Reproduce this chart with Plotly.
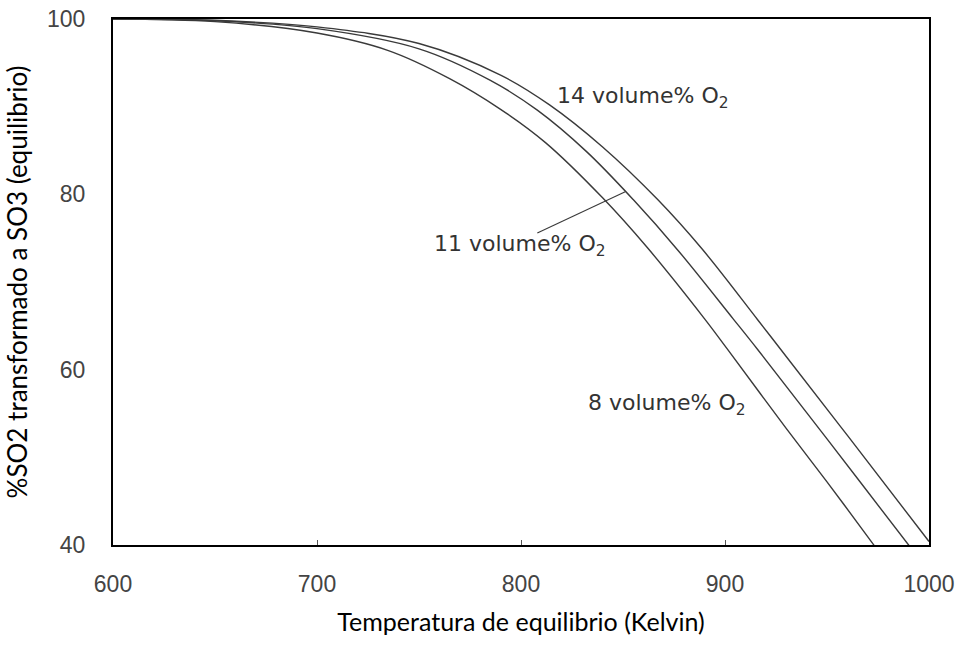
import plotly.graph_objects as go

# Data
t_8 = [600, 650, 700, 735, 765, 790, 812, 840, 862, 890, 901, 930, 950, 972, 976]
v_8 = [100, 99.7, 98.4, 96.4, 93.2, 89.7, 85.9, 79.6, 73.9, 65.8, 62.4, 53.3, 47.2, 40.3, 39.0]

t_11 = [600, 650, 700, 750, 785, 808, 832, 855, 877, 904, 916, 950, 990, 994]
v_11 = [100, 99.8, 98.9, 96.6, 93.0, 89.6, 84.9, 79.4, 73.6, 65.8, 62.3, 52.1, 40.0, 38.8]

t_14 = [600, 650, 700, 750, 790, 814, 840, 867, 889, 916, 930, 960, 1000]
v_14 = [100, 99.85, 99.1, 97.2, 93.6, 90.2, 85.4, 79.4, 73.7, 65.7, 61.5, 52.5, 40.4]

x_ticks = [600, 700, 800, 900, 1000]
y_ticks = [40, 60, 80, 100]

labels = ["14 volume% O<sub>2</sub>", "11 volume% O<sub>2</sub>", "8 volume% O<sub>2</sub>"]
label_x = [816.8, 756.6, 832]
label_y = [91.1, 74.2, 56.0]

pointer_x = [808.0, 851.1]
pointer_y = [75.6, 80.3]

line_color = "#3a3a3a"

fig = go.Figure()
for t, v in [(t_8, v_8), (t_11, v_11), (t_14, v_14)]:
    fig.add_trace(go.Scatter(x=t, y=v, mode="lines",
                             line=dict(color=line_color, width=1.4, shape="spline", smoothing=1.0),
                             showlegend=False, hoverinfo="skip"))

fig.add_trace(go.Scatter(x=pointer_x, y=pointer_y, mode="lines", line=dict(color=line_color, width=1.1),
                         showlegend=False, hoverinfo="skip"))

for txt, lx, ly in zip(labels, label_x, label_y):
    fig.add_annotation(x=lx, y=ly, text=txt, showarrow=False, xanchor="left", yanchor="middle",
                       font=dict(family="DejaVu Sans", size=22, color="#333333"))

fig.update_layout(
    width=959, height=649,
    margin=dict(l=113, r=30, t=19, b=104),
    paper_bgcolor="white", plot_bgcolor="white",
    xaxis=dict(range=[600, 1000], tickvals=x_ticks, ticktext=[str(v) for v in x_ticks], automargin=False,
               showgrid=False, zeroline=False, showline=True, linecolor="black", linewidth=2, mirror=True,
               ticks="inside", ticklen=5, tickcolor="#555", ticklabelstandoff=17,
               tickfont=dict(family="Liberation Sans, Arial", size=23, color="#444444"),
               title=dict(text="Temperatura de equilibrio (Kelvin)", standoff=18,
                          font=dict(family="Lato, Open Sans", size=25, color="black"))),
    yaxis=dict(range=[40, 100], tickvals=y_ticks, ticktext=[str(v) for v in y_ticks], automargin=False,
               showgrid=False, zeroline=False, showline=True, linecolor="black", linewidth=2, mirror=True,
               ticks="", ticklabelstandoff=21,
               tickfont=dict(family="Liberation Sans, Arial", size=23, color="#444444"),
               title=dict(text="%SO2 transformado a SO3 (equilibrio)", standoff=12,
                          font=dict(family="Lato, Open Sans", size=26, color="black"))),
)

fig.write_html("out.html")
